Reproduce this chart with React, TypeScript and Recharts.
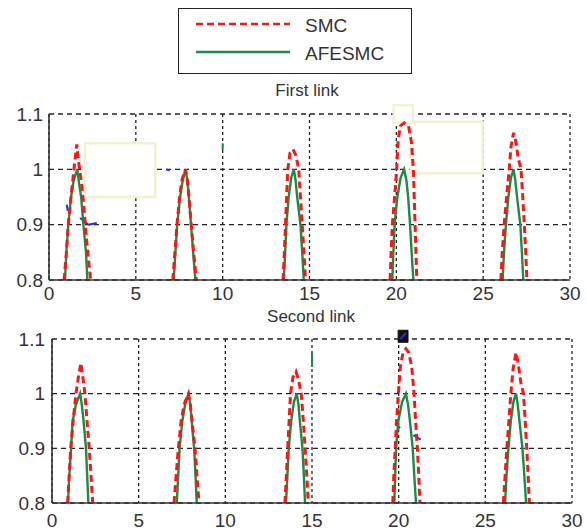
import {
  CartesianGrid,
  Legend,
  Line,
  LineChart,
  ReferenceArea,
  ReferenceLine,
  XAxis,
  YAxis,
} from 'recharts'

type Pt = [number, number]

const xTicks = [0, 5, 10, 15, 20, 25, 30]
const yTicks = [0.8, 0.9, 1, 1.1]

// First link, one array per pulse: [time, value]
const smcFirst: Pt[][] = [
  [[0.87, 0.8], [1.0, 0.85], [1.11, 0.9], [1.3, 0.96], [1.47, 1.01], [1.6, 1.045], [1.72, 1.01], [1.89, 0.97], [2.04, 0.92], [2.2, 0.86], [2.4, 0.8]],
  [[7.13, 0.8], [7.25, 0.85], [7.37, 0.9], [7.52, 0.95], [7.65, 0.98], [7.85, 1.0], [7.97, 0.98], [8.06, 0.95], [8.19, 0.9], [8.33, 0.85], [8.48, 0.8]],
  [[13.48, 0.8], [13.55, 0.85], [13.62, 0.9], [13.68, 0.95], [13.75, 1.0], [13.88, 1.03], [14.05, 1.036], [14.22, 1.025], [14.38, 1.0], [14.48, 0.95], [14.58, 0.9], [14.68, 0.85], [14.77, 0.8]],
  [[19.64, 0.8], [19.7, 0.85], [19.77, 0.9], [19.9, 0.95], [20.02, 1.0], [20.1, 1.05], [20.22, 1.078], [20.45, 1.084], [20.7, 1.078], [20.87, 1.05], [20.98, 1.0], [21.03, 0.95], [21.08, 0.9], [21.13, 0.85], [21.18, 0.8]],
  [[26.02, 0.8], [26.1, 0.85], [26.21, 0.9], [26.35, 0.95], [26.5, 1.0], [26.6, 1.04], [26.75, 1.066], [26.88, 1.05], [27.02, 1.02], [27.18, 1.0], [27.28, 0.95], [27.37, 0.9], [27.45, 0.85], [27.52, 0.8]],
]

const afesmcFirst: Pt[][] = [
  [[0.92, 0.8], [1.0, 0.85], [1.11, 0.9], [1.27, 0.95], [1.42, 0.98], [1.63, 1.0], [1.75, 0.97], [1.85, 0.95], [1.98, 0.9], [2.13, 0.85], [2.21, 0.8]],
  [[7.18, 0.8], [7.28, 0.85], [7.38, 0.9], [7.55, 0.95], [7.7, 0.98], [7.85, 1.0], [7.97, 0.98], [8.05, 0.95], [8.18, 0.9], [8.3, 0.85], [8.43, 0.8]],
  [[13.52, 0.8], [13.6, 0.85], [13.67, 0.9], [13.8, 0.95], [13.95, 0.985], [14.1, 1.0], [14.2, 0.98], [14.29, 0.95], [14.48, 0.9], [14.58, 0.85], [14.67, 0.8]],
  [[19.77, 0.8], [19.83, 0.85], [19.9, 0.9], [20.06, 0.95], [20.25, 0.985], [20.45, 1.0], [20.58, 0.98], [20.68, 0.95], [20.79, 0.9], [20.88, 0.85], [20.98, 0.8]],
  [[26.12, 0.8], [26.2, 0.85], [26.31, 0.9], [26.45, 0.95], [26.6, 0.985], [26.75, 1.0], [26.85, 0.98], [26.95, 0.95], [27.14, 0.9], [27.23, 0.85], [27.31, 0.8]],
]

// Second link
const smcSecond: Pt[][] = [
  [[0.9, 0.8], [0.99, 0.85], [1.08, 0.9], [1.22, 0.95], [1.38, 1.0], [1.52, 1.03], [1.67, 1.056], [1.78, 1.03], [1.9, 1.0], [2.02, 0.95], [2.15, 0.9], [2.25, 0.85], [2.35, 0.8]],
  [[7.04, 0.8], [7.16, 0.85], [7.29, 0.9], [7.45, 0.95], [7.62, 0.98], [7.87, 1.0], [7.98, 0.98], [8.08, 0.95], [8.25, 0.9], [8.36, 0.85], [8.48, 0.8]],
  [[13.44, 0.8], [13.52, 0.85], [13.6, 0.9], [13.68, 0.95], [13.76, 1.0], [13.9, 1.03], [14.08, 1.04], [14.22, 1.025], [14.38, 1.0], [14.5, 0.95], [14.6, 0.9], [14.7, 0.85], [14.79, 0.8]],
  [[19.66, 0.8], [19.72, 0.85], [19.8, 0.9], [19.88, 0.95], [19.98, 1.0], [20.1, 1.05], [20.25, 1.075], [20.42, 1.082], [20.58, 1.075], [20.75, 1.05], [20.89, 1.0], [20.98, 0.95], [21.08, 0.9], [21.16, 0.85], [21.23, 0.8]],
  [[26.04, 0.8], [26.14, 0.85], [26.24, 0.9], [26.36, 0.95], [26.47, 1.0], [26.6, 1.045], [26.77, 1.075], [26.9, 1.055], [27.05, 1.02], [27.2, 1.0], [27.3, 0.95], [27.39, 0.9], [27.47, 0.85], [27.54, 0.8]],
]

const afesmcSecond: Pt[][] = [
  [[0.92, 0.8], [1.0, 0.85], [1.1, 0.9], [1.19, 0.95], [1.38, 0.98], [1.62, 1.0], [1.72, 0.98], [1.82, 0.95], [1.96, 0.9], [2.03, 0.85], [2.1, 0.8]],
  [[7.2, 0.8], [7.28, 0.85], [7.36, 0.9], [7.52, 0.95], [7.68, 0.98], [7.87, 1.0], [7.98, 0.98], [8.06, 0.95], [8.2, 0.9], [8.28, 0.85], [8.35, 0.8]],
  [[13.5, 0.8], [13.58, 0.85], [13.66, 0.9], [13.8, 0.95], [13.96, 0.985], [14.12, 1.0], [14.22, 0.98], [14.3, 0.95], [14.45, 0.9], [14.53, 0.85], [14.6, 0.8]],
  [[19.75, 0.8], [19.8, 0.85], [19.85, 0.9], [19.98, 0.95], [20.2, 0.985], [20.42, 1.0], [20.54, 0.98], [20.65, 0.95], [20.81, 0.9], [20.9, 0.85], [21.0, 0.8]],
  [[26.14, 0.8], [26.22, 0.85], [26.33, 0.9], [26.47, 0.95], [26.62, 0.985], [26.77, 1.0], [26.87, 0.98], [26.97, 0.95], [27.14, 0.9], [27.25, 0.85], [27.35, 0.8]],
]

// pasted-over patches and stray marks seen in the scanned figure
const patchesFirst = [
  { x1: 2.08, x2: 6.12, y1: 0.95, y2: 1.047 },
  { x1: 20.83, x2: 24.97, y1: 0.993, y2: 1.086 },
  { x1: 19.85, x2: 20.95, y1: 1.084, y2: 1.116 },
]
const patchesSecond = [{ x1: 19.97, x2: 20.54, y1: 1.094, y2: 1.116 }]

const blueFirst: Pt[][] = [
  [[1.02, 0.936], [1.08, 0.925]],
  [[1.79, 0.912], [2.27, 0.9]],
  [[2.27, 0.9], [2.75, 0.903]],
  [[6.75, 1.0], [6.95, 0.998]],
]
const greenFirst: Pt[][] = [[[10, 1.035], [10, 1.047]]]

const blueSecond: Pt[][] = [
  [[19.79, 0.946], [20.08, 0.937]],
  [[20.85, 0.924], [21.27, 0.916]],
  [[18.81, 1.0], [19.02, 0.999]],
  [[20.1, 1.1], [20.42, 1.111]],
]
const greenSecond: Pt[][] = [[[15, 1.049], [15, 1.074]]]

const RED = '#ff1414'
const GREEN = '#1d8a46'
const dashes: Record<string, string | undefined> = { SMC: '7 4' }

function toRows(pulses: Pt[][]) {
  const rows: { t: number; v: number | null }[] = []
  pulses.forEach((p, i) => {
    if (i > 0) {
      const prev = pulses[i - 1]
      rows.push({ t: (prev[prev.length - 1][0] + p[0][0]) / 2, v: null })
    }
    p.forEach(([t, v]) => rows.push({ t, v }))
  })
  return rows
}

function LegendBox({ payload }: any) {
  const items = [...(payload ?? [])].reverse()
  return (
    <div
      style={{
        position: 'relative',
        width: 234,
        height: 66,
        border: '1.5px solid #222',
        boxSizing: 'border-box',
        background: '#fff',
      }}
    >
      {items.map((item: any, i: number) => (
        <div
          key={item.value}
          style={{ position: 'absolute', left: 0, top: 1 + i * 28, height: 28, display: 'flex', alignItems: 'center' }}
        >
          <svg width={112} height={28}>
            <line x1={17} x2={111} y1={14} y2={14} stroke={item.color} strokeWidth={2.6} strokeDasharray={dashes[item.value]} />
          </svg>
          <span style={{ marginLeft: 14, fontSize: 19, color: '#333', position: 'relative', top: 2 }}>{item.value}</span>
        </div>
      ))}
    </div>
  )
}

const tickStyle = { fontSize: 19, fill: '#333' }

interface PanelProps {
  smc: Pt[][]
  afesmc: Pt[][]
  patches: { x1: number; x2: number; y1: number; y2: number }[]
  blue: Pt[][]
  green: Pt[][]
  height: number
  margin: { top: number; right: number; bottom: number; left: number }
  xAxisHeight: number
  xTickGap: number
  yTickGap: number
  withLegend?: boolean
  darkPatch?: boolean
}

function Panel(props: PanelProps) {
  const { smc, afesmc, patches, blue, green, height, margin, xAxisHeight, xTickGap, yTickGap, withLegend, darkPatch } = props
  return (
    <LineChart width={587} height={height} margin={margin}>
      <CartesianGrid vertical={false} stroke="#222" strokeWidth={1.3} strokeDasharray="5 4" />
      <CartesianGrid horizontal={false} stroke="#222" strokeWidth={1.3} strokeDasharray="3 3" />
      <XAxis
        dataKey="t"
        type="number"
        domain={[0, 30]}
        ticks={xTicks}
        interval={0}
        allowDataOverflow
        height={xAxisHeight}
        tickSize={0}
        tickLine={false}
        tickMargin={xTickGap}
        tick={tickStyle}
        axisLine={{ stroke: '#333', strokeWidth: 1.6 }}
      />
      <YAxis
        type="number"
        domain={[0.8, 1.1]}
        ticks={yTicks}
        interval={0}
        allowDataOverflow
        width={40}
        tickSize={0}
        tickLine={false}
        tickMargin={yTickGap}
        tick={tickStyle}
        axisLine={{ stroke: '#333', strokeWidth: 1.6 }}
      />
      {patches.map((p, i) => (
        <ReferenceArea
          key={i}
          x1={p.x1}
          x2={p.x2}
          y1={p.y1}
          y2={p.y2}
          ifOverflow="visible"
          fill={darkPatch ? '#111' : '#fffffb'}
          fillOpacity={1}
          stroke={darkPatch ? '#111' : '#f4f0d4'}
          strokeWidth={darkPatch ? 1 : 2.5}
        />
      ))}
      {blue.map((s, i) => (
        <ReferenceLine
          key={'b' + i}
          segment={[{ x: s[0][0], y: s[0][1] }, { x: s[1][0], y: s[1][1] }]}
          stroke="#1a2cff"
          strokeWidth={2}
          ifOverflow="visible"
        />
      ))}
      {green.map((s, i) => (
        <ReferenceLine
          key={'g' + i}
          segment={[{ x: s[0][0], y: s[0][1] }, { x: s[1][0], y: s[1][1] }]}
          stroke={GREEN}
          strokeWidth={2}
          ifOverflow="visible"
        />
      ))}
      <Line
        data={toRows(afesmc)}
        dataKey="v"
        name="AFESMC"
        type="linear"
        stroke={GREEN}
        strokeWidth={2.4}
        dot={false}
        activeDot={false}
        isAnimationActive={false}
      />
      <Line
        data={toRows(smc)}
        dataKey="v"
        name="SMC"
        type="linear"
        stroke={RED}
        strokeWidth={3}
        strokeDasharray="7 4"
        dot={false}
        activeDot={false}
        isAnimationActive={false}
      />
      {withLegend && (
        <Legend
          layout="horizontal"
          verticalAlign="middle"
          align="center"
          content={<LegendBox />}
          wrapperStyle={{ top: 8, left: 178, width: 234, height: 66 }}
        />
      )}
    </LineChart>
  )
}

const titleStyle = {
  position: 'absolute' as const,
  width: 140,
  textAlign: 'center' as const,
  fontSize: 17,
  lineHeight: '17px',
  color: '#333',
}

export default function App() {
  return (
    <div
      style={{
        position: 'absolute',
        left: 0,
        top: 0,
        width: 587,
        height: 531,
        background: '#fff',
        fontFamily: '"Liberation Sans", Arial, sans-serif',
        overflow: 'hidden',
      }}
    >
      <div style={{ position: 'absolute', left: 0, top: 0 }}>
        <Panel
          smc={smcFirst}
          afesmc={afesmcFirst}
          patches={patchesFirst}
          blue={blueFirst}
          green={greenFirst}
          height={310}
          margin={{ top: 114, right: 17, bottom: 5, left: 9 }}
          xAxisHeight={25}
          xTickGap={7}
          yTickGap={6}
          withLegend
        />
      </div>
      <div style={{ position: 'absolute', left: 0, top: 310 }}>
        <Panel
          smc={smcSecond}
          afesmc={afesmcSecond}
          patches={patchesSecond}
          blue={blueSecond}
          green={greenSecond}
          height={221}
          margin={{ top: 29, right: 15, bottom: 0, left: 12 }}
          xAxisHeight={28}
          xTickGap={11}
          yTickGap={7}
          darkPatch
        />
      </div>
      <div style={{ ...titleStyle, left: 237, top: 82 }}>First link</div>
      <div style={{ ...titleStyle, left: 241, top: 308 }}>Second link</div>
    </div>
  )
}
